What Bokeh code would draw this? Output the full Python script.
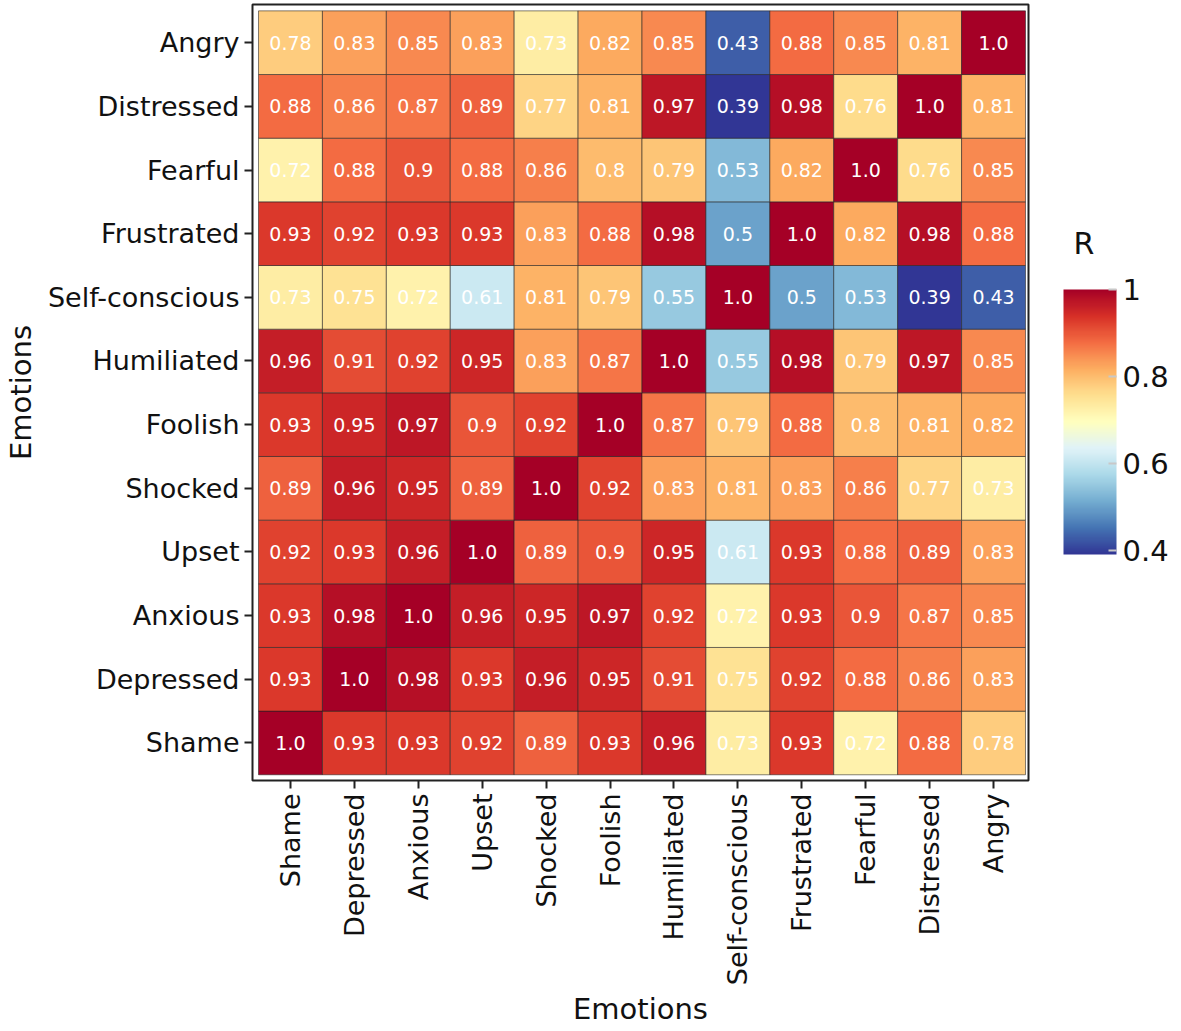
import math
import numpy as np
from bokeh.plotting import figure
from bokeh.models import (ColumnDataSource, LinearColorMapper, ColorBar,
                          FixedTicker, Range1d)
from bokeh.core.properties import value
from bokeh.embed import file_html
from bokeh.resources import INLINE

# ---------------- data ----------------
emotions = ["Shame", "Depressed", "Anxious", "Upset", "Shocked", "Foolish",
            "Humiliated", "Self-conscious", "Frustrated", "Fearful",
            "Distressed", "Angry"]

shame          = [1.0, 0.93, 0.93, 0.92, 0.89, 0.93, 0.96, 0.73, 0.93, 0.72, 0.88, 0.78]
depressed      = [0.93, 1.0, 0.98, 0.93, 0.96, 0.95, 0.91, 0.75, 0.92, 0.88, 0.86, 0.83]
anxious        = [0.93, 0.98, 1.0, 0.96, 0.95, 0.97, 0.92, 0.72, 0.93, 0.9, 0.87, 0.85]
upset          = [0.92, 0.93, 0.96, 1.0, 0.89, 0.9, 0.95, 0.61, 0.93, 0.88, 0.89, 0.83]
shocked        = [0.89, 0.96, 0.95, 0.89, 1.0, 0.92, 0.83, 0.81, 0.83, 0.86, 0.77, 0.73]
foolish        = [0.93, 0.95, 0.97, 0.9, 0.92, 1.0, 0.87, 0.79, 0.88, 0.8, 0.81, 0.82]
humiliated     = [0.96, 0.91, 0.92, 0.95, 0.83, 0.87, 1.0, 0.55, 0.98, 0.79, 0.97, 0.85]
self_conscious = [0.73, 0.75, 0.72, 0.61, 0.81, 0.79, 0.55, 1.0, 0.5, 0.53, 0.39, 0.43]
frustrated     = [0.93, 0.92, 0.93, 0.93, 0.83, 0.88, 0.98, 0.5, 1.0, 0.82, 0.98, 0.88]
fearful        = [0.72, 0.88, 0.9, 0.88, 0.86, 0.8, 0.79, 0.53, 0.82, 1.0, 0.76, 0.85]
distressed     = [0.88, 0.86, 0.87, 0.89, 0.77, 0.81, 0.97, 0.39, 0.98, 0.76, 1.0, 0.81]
angry          = [0.78, 0.83, 0.85, 0.83, 0.73, 0.82, 0.85, 0.43, 0.88, 0.85, 0.81, 1.0]

rows = [shame, depressed, anxious, upset, shocked, foolish, humiliated,
        self_conscious, frustrated, fearful, distressed, angry]

cbar_ticks = [0.4, 0.6, 0.8, 1.0]
cbar_labels = ["0.4", "0.6", "0.8", "1"]
cbar_title = "R"
r_low, r_high = 0.39, 1.0

# ---------------- colour map (RdYlBu reversed) ----------------
rdylbu = ['#a50026', '#d73027', '#f46d43', '#fdae61', '#fee090', '#ffffbf',
          '#e0f3f8', '#abd9e9', '#74add1', '#4575b4', '#313695'][::-1]
anch = np.array([[int(c[i:i + 2], 16) for i in (1, 3, 5)] for c in rdylbu], float)
pos = np.linspace(0, 1, len(anch))
tt = np.linspace(0, 1, 256)
palette = []
for t in tt:
    rgb = [np.interp(t, pos, anch[:, k]) for k in range(3)]
    palette.append("#%02x%02x%02x" % tuple(int(round(v)) for v in rgb))

mapper = LinearColorMapper(palette=palette, low=r_low, high=r_high)

xs, ys, vals, labels = [], [], [], []
for i, row in enumerate(rows):
    for j, v in enumerate(row):
        xs.append(j)
        ys.append(i)
        vals.append(v)
        labels.append(str(v))
src = ColumnDataSource(dict(x=xs, y=ys, val=vals, label=labels))

FONT = "DejaVu Sans"

p = figure(width=1178, height=1029,
           x_range=Range1d(-0.594, 11.547), y_range=Range1d(-0.59, 11.6),
           output_backend="svg", toolbar_location=None,
           min_border_top=4, min_border_bottom=0, min_border_left=0,
           min_border_right=150)

p.rect(x="x", y="y", width=1, height=1, source=src,
       fill_color={"field": "val", "transform": mapper},
       line_color="#222222", line_alpha=0.7, line_width=0.8)
p.text(x="x", y="y", text="label", source=src, text_color="white",
       text_font=value(FONT), text_font_size="19px",
       text_align="center", text_baseline="middle")

p.xgrid.visible = False
p.ygrid.visible = False
p.outline_line_color = "#222222"
p.outline_line_width = 2

for ax in (p.xaxis[0], p.yaxis[0]):
    ax.ticker = FixedTicker(ticks=list(range(len(emotions))))
    ax.major_label_overrides = {i: e for i, e in enumerate(emotions)}
    ax.major_label_text_font = FONT
    ax.major_label_text_font_size = "27px"
    ax.major_label_text_color = "#111111"
    ax.axis_line_color = None
    ax.major_tick_out = 8
    ax.major_tick_in = 0
    ax.major_tick_line_color = "#222222"
    ax.major_tick_line_width = 2
    ax.minor_tick_line_color = None
    ax.axis_label = "Emotions"
    ax.axis_label_text_font = FONT
    ax.axis_label_text_font_size = "29px"
    ax.axis_label_text_font_style = "normal"
    ax.axis_label_text_color = "#111111"
    ax.major_label_standoff = 5

p.xaxis.major_label_orientation = math.pi / 2
p.xaxis.axis_label_standoff = 4
p.yaxis.axis_label_standoff = 7

cb = ColorBar(color_mapper=mapper, ticker=FixedTicker(ticks=cbar_ticks),
              major_label_overrides={t: l for t, l in zip(cbar_ticks, cbar_labels)},
              width=53, height=265, padding=0, location=(811, 226),
              major_label_text_font=FONT, major_label_text_font_size="29px",
              major_label_text_color="#111111", label_standoff=6,
              major_tick_in=8, major_tick_line_color="#c8c8c8",
              major_tick_line_width=2, bar_line_color=None,
              background_fill_color=None, border_line_color=None)
p.add_layout(cb, "center")

# colour bar title "R": a horizontal colour bar with an invisible scale,
# used only for its (horizontal) title text above the main bar
title_cb = ColorBar(color_mapper=mapper, orientation="horizontal",
                    ticker=FixedTicker(ticks=[]), width=30, height=1,
                    padding=0, location=(821, 519), scale_alpha=0,
                    title=cbar_title, title_text_font=FONT,
                    title_text_font_size="30px", title_text_font_style="normal",
                    title_text_color="#111111", title_standoff=0,
                    major_label_text_alpha=0, major_label_text_font_size="1px",
                    major_tick_line_color=None, minor_tick_line_color=None,
                    bar_line_color=None, background_fill_color=None,
                    border_line_color=None, label_standoff=0)
p.add_layout(title_cb, "center")

open("out.html", "w").write(file_html(p, INLINE))
